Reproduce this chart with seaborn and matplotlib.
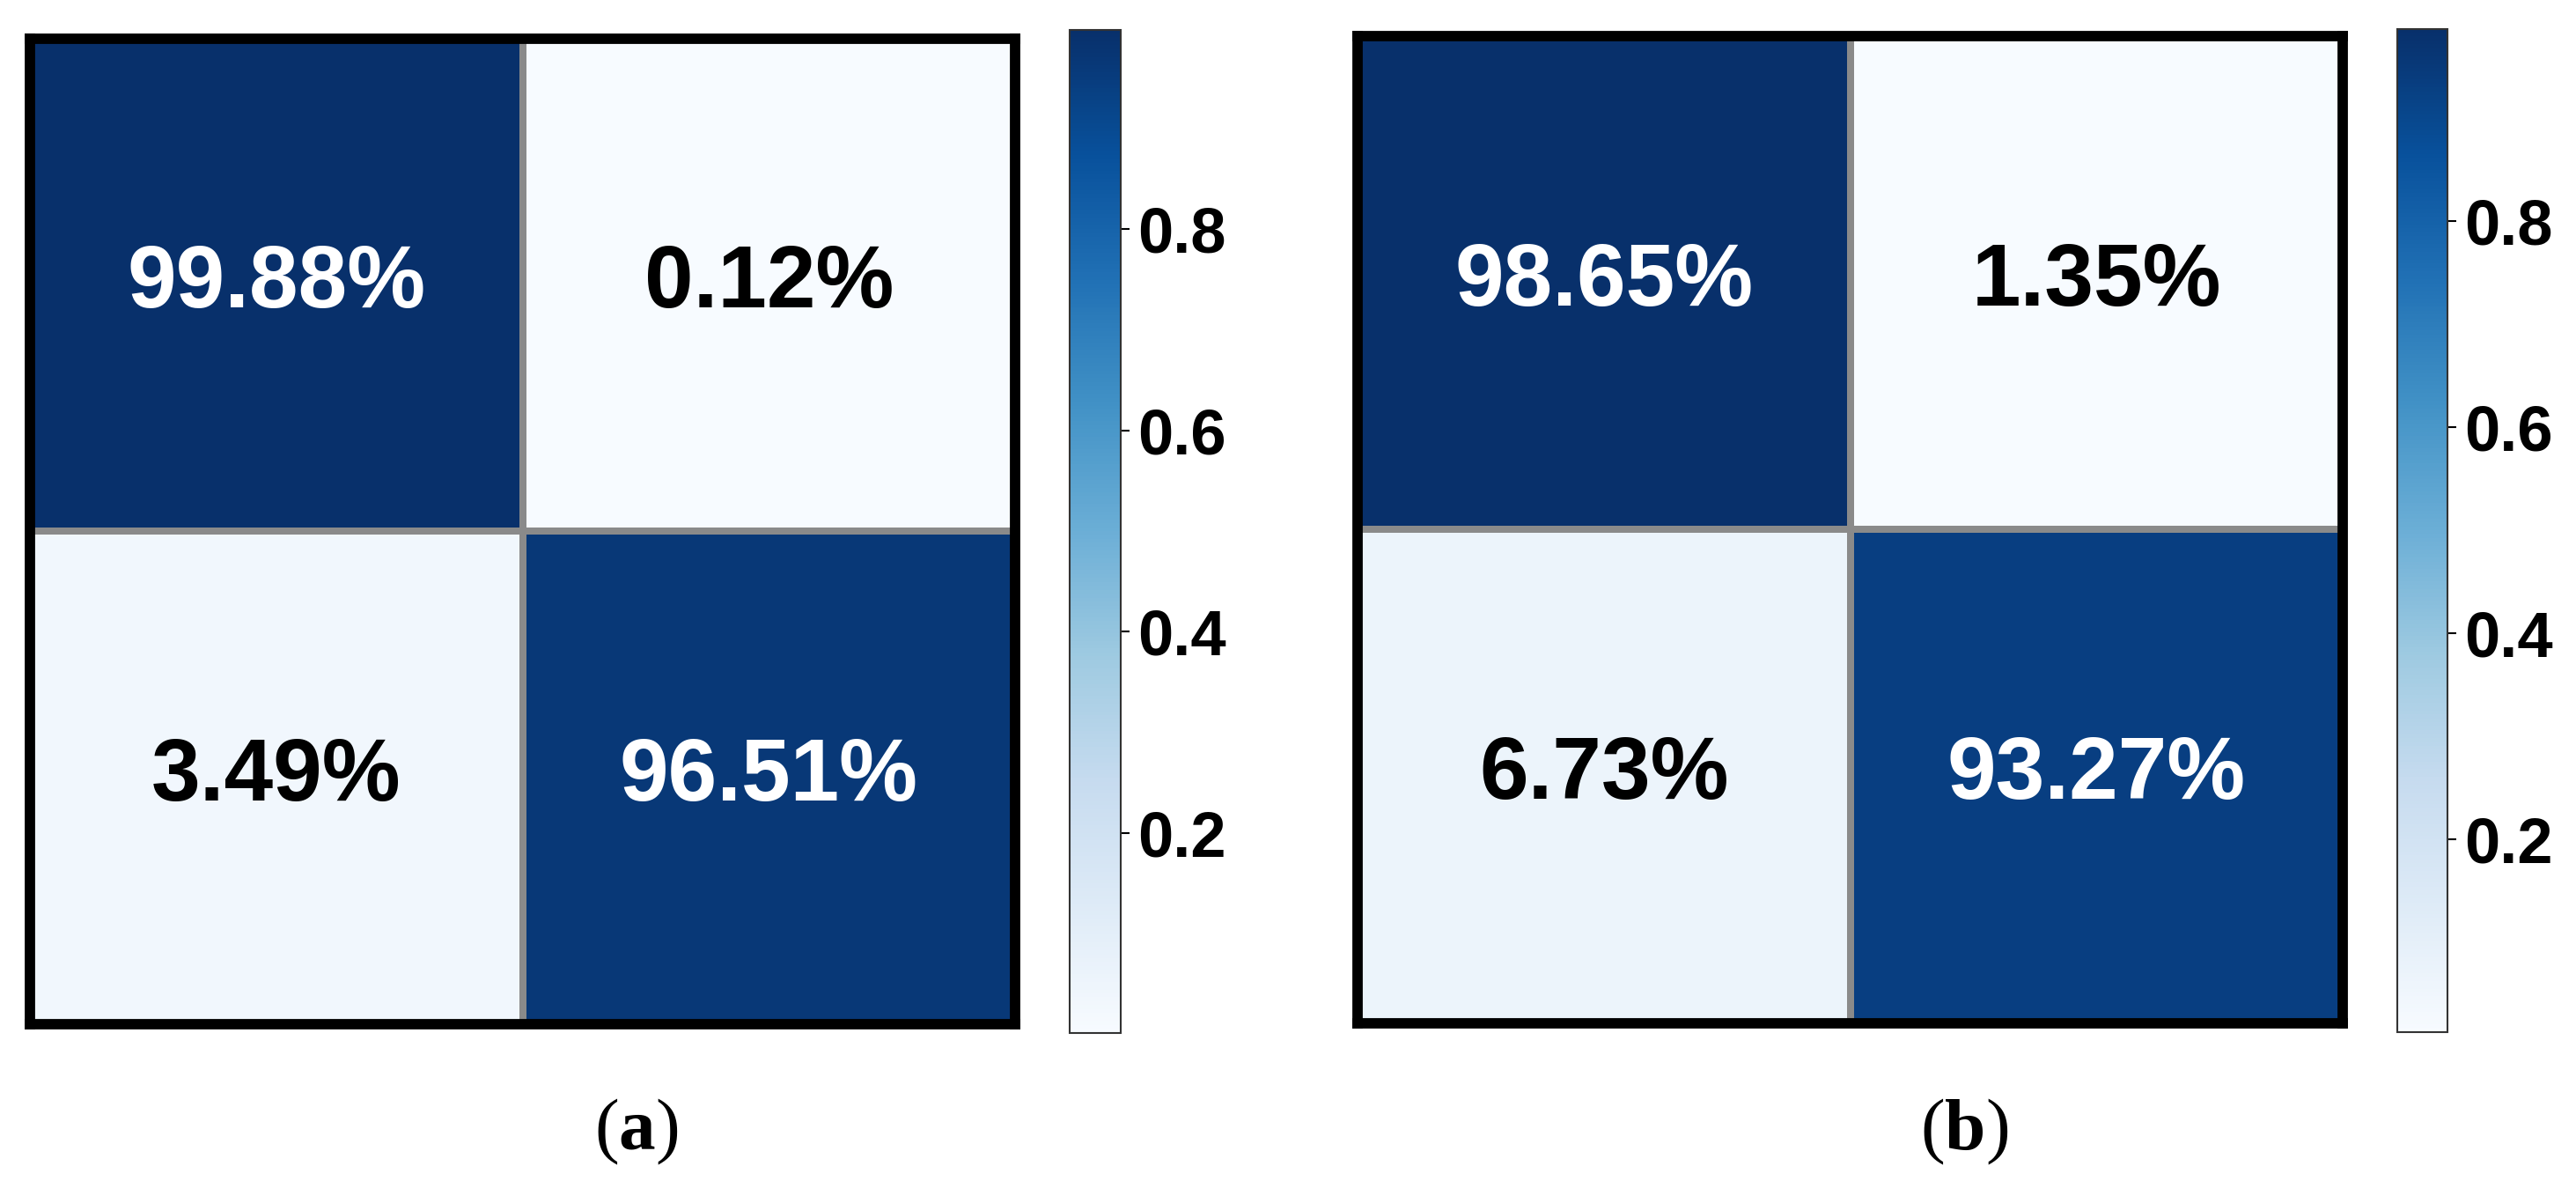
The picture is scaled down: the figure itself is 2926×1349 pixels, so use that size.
import numpy as np
import pandas as pd
import matplotlib
matplotlib.use("Agg")
import matplotlib.pyplot as plt
import seaborn as sns

# ---- data ----
classes = ["0", "1"]
panel_a = [[0.9988, 0.0012],
           [0.0349, 0.9651]]
panel_b = [[0.9865, 0.0135],
           [0.0673, 0.9327]]
captions = ["a", "b"]

sns.set_style("white")
plt.rcParams['font.family'] = ['Liberation Sans', 'DejaVu Sans']
plt.rcParams['text.color'] = 'black'
plt.rcParams['mathtext.fontset'] = 'custom'
plt.rcParams['mathtext.rm'] = 'Liberation Serif'
plt.rcParams['mathtext.bf'] = 'Liberation Serif:bold'

W, H = 2926, 1349
fig = plt.figure(figsize=(W / 100, H / 100), dpi=100)
fig.patch.set_facecolor('white')


def rect(x0, y0, x1, y1):
    return [x0 / W, 1 - y1 / H, (x1 - x0) / W, (y1 - y0) / H]


layouts = [
    dict(ax=(34, 43.5, 1153, 1162.5), cax=(1214.5, 33.5, 1272.5, 1172.5), cap=(723, 1285)),
    dict(ax=(1542, 41, 2661, 1161.5), cax=(2722.5, 32.5, 2779.5, 1171.5), cap=(2231, 1285)),
]

for data, cap, lay in zip([panel_a, panel_b], captions, layouts):
    df = pd.DataFrame(data, index=classes, columns=classes)
    labels = np.array([[f"{v * 100:.2f}%" for v in row] for row in data])
    ax = fig.add_axes(rect(*lay['ax']))
    cax = fig.add_axes(rect(*lay['cax']))
    sns.heatmap(df, ax=ax, cbar_ax=cax, cmap='Blues', annot=labels, fmt='',
                linewidths=4.5, linecolor='#8a8a8a',
                annot_kws=dict(fontsize=72, fontweight='bold'),
                xticklabels=False, yticklabels=False)
    for t in ax.texts:
        if t.get_color() not in ('w', 'white'):
            t.set_color('black')
    for s in ax.spines.values():
        s.set_visible(True)
        s.set_linewidth(8.5)
        s.set_color('black')
    cbar = ax.collections[0].colorbar
    cbar.outline.set_linewidth(1.5)
    cbar.outline.set_edgecolor('#333333')
    cbar.ax.tick_params(labelsize=52, length=7, width=1.5, pad=7, colors='black')
    for t in cbar.ax.get_yticklabels():
        t.set_fontweight('bold')
    fig.text(lay['cap'][0] / W, 1 - lay['cap'][1] / H, r'($\mathbf{' + cap + r'}$)',
             fontsize=60, ha='center', va='center', family='Liberation Serif',
             color='black')

fig.savefig('out.png', dpi=100, facecolor='white')
